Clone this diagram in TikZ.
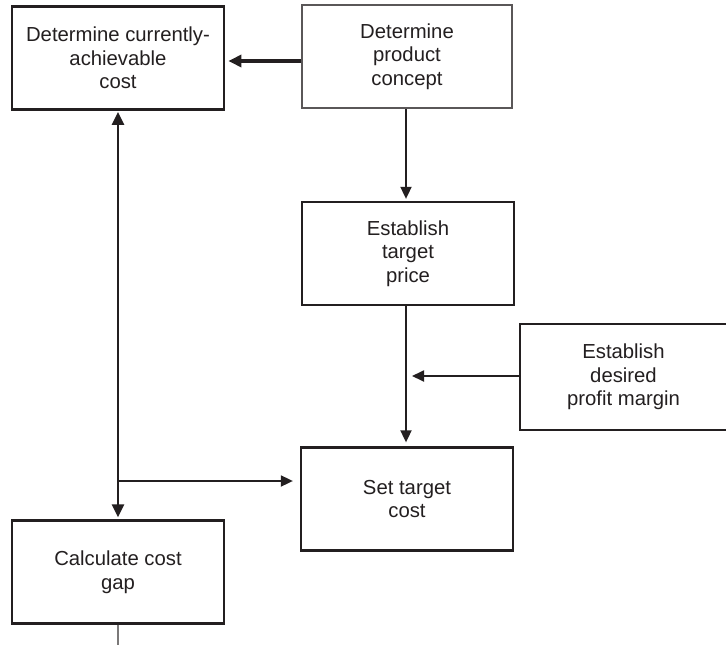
\documentclass[tikz,border=0pt]{standalone}
\usepackage{fontspec}
\setmainfont{Liberation Sans}
\usetikzlibrary{arrows.meta}
\definecolor{ink}{HTML}{231F20}
\tikzset{
  x=1pt, y=-1pt,
  boxnode/.style={draw=ink, line width=2.3pt, minimum width=212pt, minimum height=103pt,
    align=center, text=ink, inner sep=0pt,
    font=\fontsize{20.3}{23.5}\selectfont},
  thinarrow/.style={draw=ink, line width=1.8pt, -{Triangle[length=12pt,width=11pt]}},
  thickarrow/.style={draw=ink, line width=3.2pt, -{Triangle[length=13pt,width=12pt]}},
}
\begin{document}
\begin{tikzpicture}
\useasboundingbox (0,0) rectangle (726,645);
\fill[white] (0,0) rectangle (726,645);
\node[boxnode, line width=2.8pt] (a) at (118,58) {Determine currently-\\achievable\\cost};
\node[boxnode, draw=ink!75, line width=1.5pt, minimum width=210pt] (b) at (407,56.5) {Determine\\product\\concept};
\node[boxnode] (c) at (408,253.5) {Establish\\target\\price};
\node[boxnode, draw=none, minimum width=205pt, minimum height=104pt] (d) at (623.5,377) {Establish\\desired\\profit margin};
\draw[ink, line width=2.3pt] ([xshift=20pt]d.north east) -- (d.north west) -- (d.south west) -- ([xshift=20pt]d.south east);
\node[boxnode] (e) at (407,499) {Set target\\cost};
\node[boxnode] (f) at (118,572) {Calculate cost\\gap};
% connectors
\draw[thickarrow, shorten >=3pt] (b.west |- 0,61) -- (a.east |- 0,61);
\draw[thinarrow, shorten >=2pt] (b.south -| 406,0) -- (c.north -| 406,0);
\draw[thinarrow, shorten >=4pt] (c.south -| 406,0) -- (e.north -| 406,0);
\coordinate (m) at (406,376);
\draw[thinarrow, shorten >=6pt] (d.west |- m) -- (m);
\draw[thickarrow, line width=2.8pt, {Triangle[length=13pt,width=12pt]}-{Triangle[length=13pt,width=12pt]}, shorten <=1pt, shorten >=2pt] (a.south) -- (f.north);
\coordinate (j) at (118,481);
\draw[thinarrow, shorten >=7pt] (j) -- (j -| e.west);
\coordinate (g) at (118,650);
\draw[ink!60, line width=1.4pt] (f.south) -- (g);
\end{tikzpicture}
\end{document}
